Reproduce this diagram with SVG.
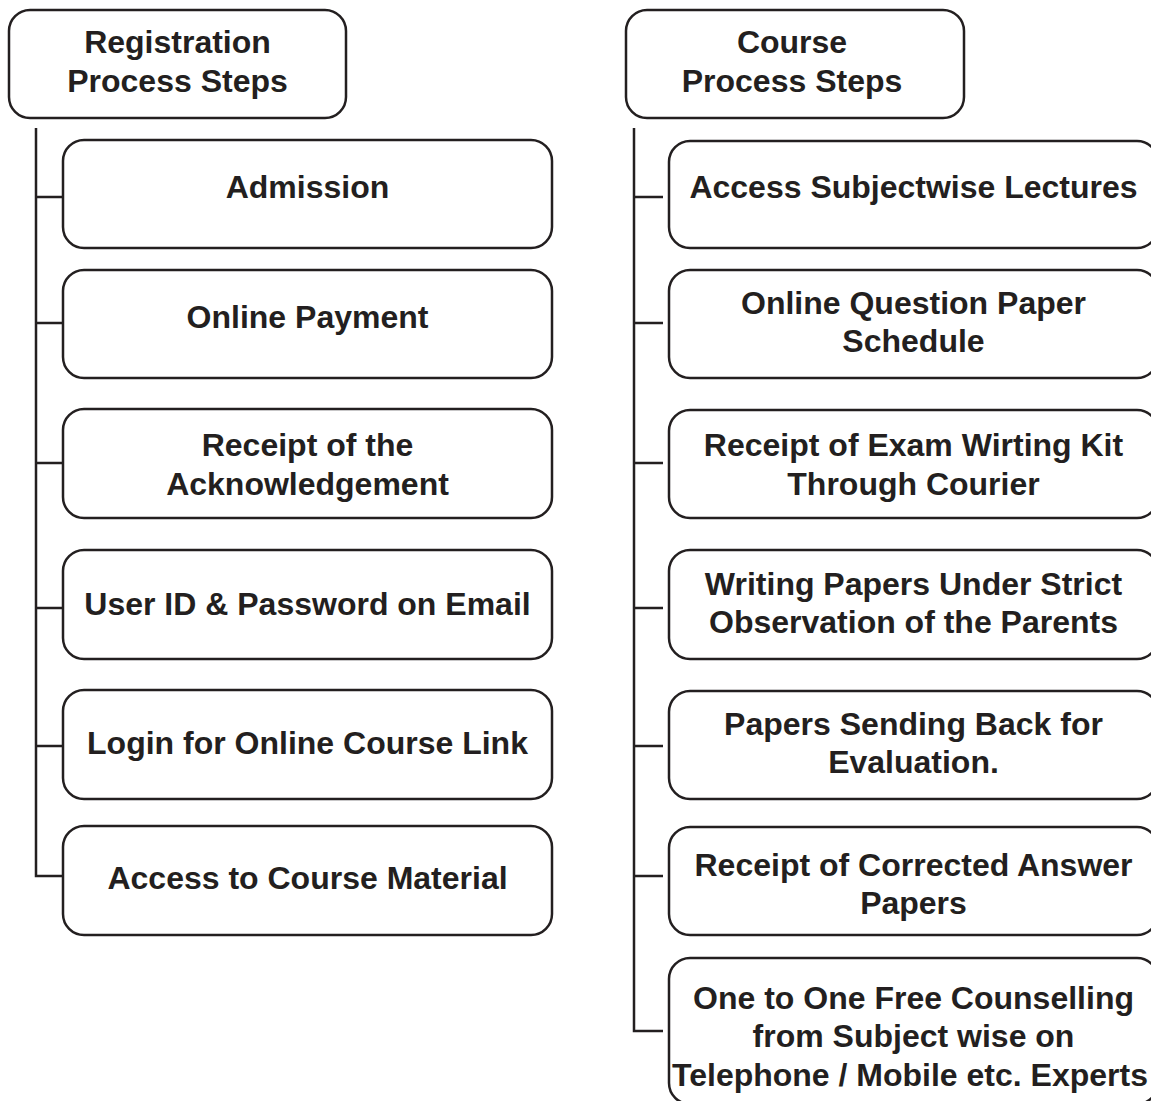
<svg xmlns="http://www.w3.org/2000/svg" width="1151" height="1101" viewBox="0 0 1151 1101">
<style>
.box{fill:#ffffff;stroke:#231f20;stroke-width:2.5}
.ln{fill:none;stroke:#231f20;stroke-width:2.5}
text{font-family:"Liberation Sans",Arial,Helvetica,sans-serif;font-weight:bold;font-size:32px;fill:#231f20;text-anchor:middle}
</style>
<rect width="1151" height="1101" fill="#ffffff"/>
<g id="connectors">
<path class="ln" d="M36 128V876H63M36 197H63M36 323H63M36 463H63M36 608H63M36 746H63"/>
<path class="ln" d="M634 128V1031H663M634 197H663M634 323H663M634 463H663M634 608H663M634 746H663M634 876H663"/>
</g>
<g id="reg-header"><rect class="box" x="9" y="10" width="337" height="108" rx="21"/><text x="177.5" y="53">Registration</text><text x="177.5" y="92">Process Steps</text></g>
<g id="course-header"><rect class="box" x="626" y="10" width="338" height="108" rx="21"/><text x="792" y="53">Course</text><text x="792" y="92">Process Steps</text></g>
<g id="reg1"><rect class="box" x="63" y="140" width="489" height="108" rx="21"/><text x="307.5" y="198">Admission</text></g>
<g id="reg2"><rect class="box" x="63" y="270" width="489" height="108" rx="21"/><text x="307.5" y="328">Online Payment</text></g>
<g id="reg3"><rect class="box" x="63" y="409" width="489" height="109" rx="21"/><text x="307.5" y="456">Receipt of the</text><text x="307.5" y="495">Acknowledgement</text></g>
<g id="reg4"><rect class="box" x="63" y="550" width="489" height="109" rx="21"/><text x="307.5" y="615">User ID &amp; Password on Email</text></g>
<g id="reg5"><rect class="box" x="63" y="690" width="489" height="109" rx="21"/><text x="307.5" y="754">Login for Online Course Link</text></g>
<g id="reg6"><rect class="box" x="63" y="826" width="489" height="109" rx="21"/><text x="307.5" y="889">Access to Course Material</text></g>
<g id="course1"><rect class="box" x="669" y="141" width="489" height="107" rx="21"/><text x="913.5" y="198">Access Subjectwise Lectures</text></g>
<g id="course2"><rect class="box" x="669" y="270" width="489" height="108" rx="21"/><text x="913.5" y="314">Online Question Paper</text><text x="913.5" y="352">Schedule</text></g>
<g id="course3"><rect class="box" x="669" y="410" width="489" height="108" rx="21"/><text x="913.5" y="456">Receipt of Exam Wirting Kit</text><text x="913.5" y="495">Through Courier</text></g>
<g id="course4"><rect class="box" x="669" y="550" width="489" height="109" rx="21"/><text x="913.5" y="595">Writing Papers Under Strict</text><text x="913.5" y="633">Observation of the Parents</text></g>
<g id="course5"><rect class="box" x="669" y="691" width="489" height="108" rx="21"/><text x="913.5" y="735">Papers Sending Back for</text><text x="913.5" y="773">Evaluation.</text></g>
<g id="course6"><rect class="box" x="669" y="827" width="489" height="108" rx="21"/><text x="913.5" y="876">Receipt of Corrected Answer</text><text x="913.5" y="914">Papers</text></g>
<g id="course7"><rect class="box" x="669" y="958" width="489" height="146" rx="21"/><text x="913.5" y="1009">One to One Free Counselling</text><text x="913.5" y="1047">from Subject wise on</text><text x="910" y="1086">Telephone / Mobile etc. Experts</text></g>
</svg>
